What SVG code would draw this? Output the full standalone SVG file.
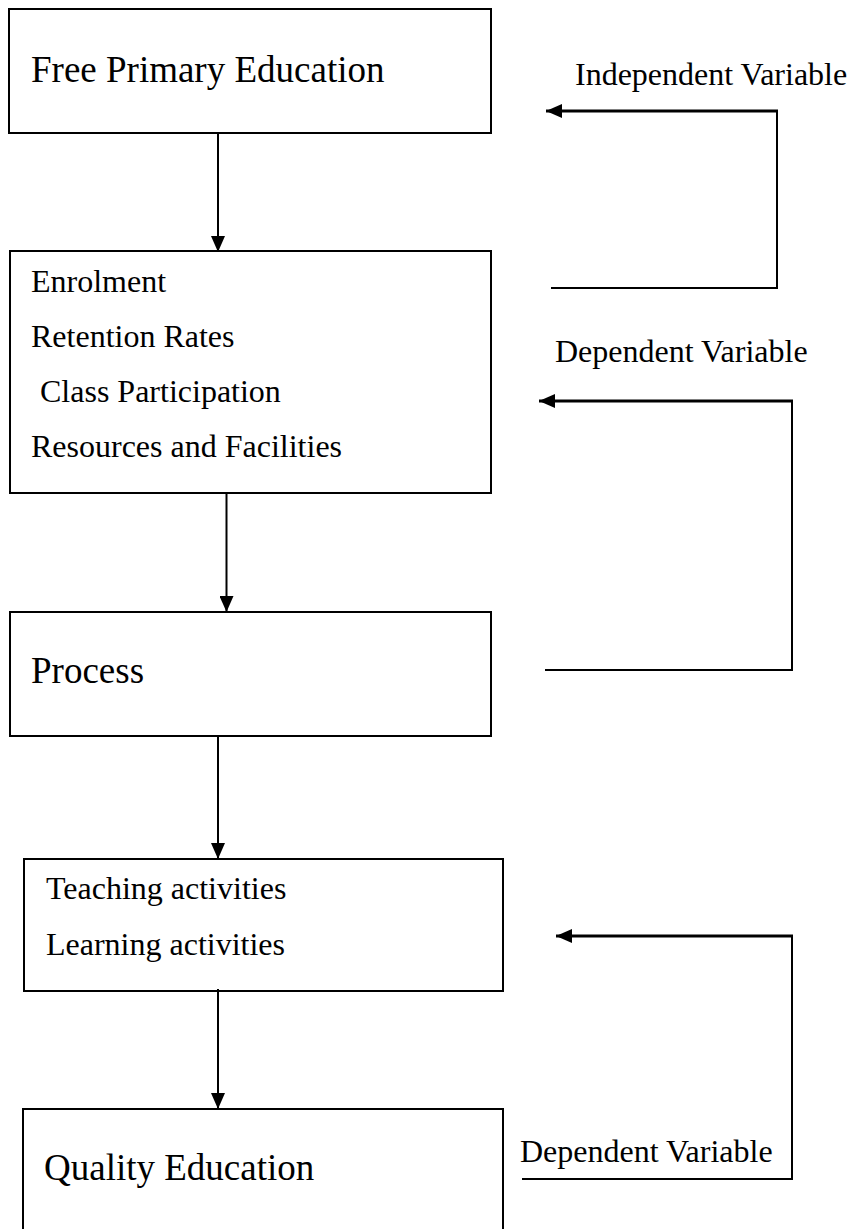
<svg xmlns="http://www.w3.org/2000/svg" width="856" height="1229" viewBox="0 0 856 1229">
<style>
.box{fill:#fff;stroke:#000;stroke-width:2}
.t{font-family:"Liberation Serif","Times New Roman",serif;fill:#000}
.lg{font-size:37px}
.sm{font-size:32px}
.c{fill:none;stroke:#000;stroke-width:2}
.fb{fill:none;stroke:#000;stroke-width:2}
.fbt{fill:none;stroke:#000;stroke-width:3}
</style>
<defs>
<marker id="ah" viewBox="0 0 16 14" refX="16" refY="7" markerWidth="16" markerHeight="14" markerUnits="userSpaceOnUse" orient="auto">
<path d="M0,0 L16,7 L0,14 Z" fill="#000"/>
</marker>
</defs>
<rect width="856" height="1229" fill="#fff"/>
<g id="node-free-primary">
<rect class="box" x="9" y="9" width="482" height="124"/>
<text class="t lg" x="31" y="82">Free Primary Education</text>
</g>
<g id="node-enrolment">
<rect class="box" x="10" y="251" width="481" height="242"/>
<text class="t sm" x="31" y="292">Enrolment</text>
<text class="t sm" x="31" y="347">Retention Rates</text>
<text class="t sm" x="40" y="402">Class Participation</text>
<text class="t sm" x="31" y="457">Resources and Facilities</text>
</g>
<g id="node-process">
<rect class="box" x="10" y="612" width="481" height="124"/>
<text class="t lg" x="31" y="683">Process</text>
</g>
<g id="node-activities">
<rect class="box" x="24" y="859" width="479" height="132"/>
<text class="t sm" x="46" y="899">Teaching activities</text>
<text class="t sm" x="46" y="955">Learning activities</text>
</g>
<g id="node-quality">
<path class="box" d="M23,1232 V1109 H503 V1232"/>
<text class="t lg" x="44" y="1180">Quality Education</text>
</g>
<g id="labels">
<text class="t sm" x="575" y="85">Independent Variable</text>
<text class="t sm" x="555" y="362">Dependent Variable</text>
<text class="t sm" x="520" y="1162">Dependent Variable</text>
</g>
<g id="connectors">
<line class="c" x1="218" y1="133" x2="218" y2="252" marker-end="url(#ah)"/>
<line class="c" x1="226.5" y1="493" x2="226.5" y2="612" marker-end="url(#ah)"/>
<line class="c" x1="218" y1="736" x2="218" y2="859" marker-end="url(#ah)"/>
<line class="c" x1="218" y1="989" x2="218" y2="1109" marker-end="url(#ah)"/>
<path class="fb" d="M551,288 H777 V111"/>
<line class="fbt" x1="778" y1="111" x2="546" y2="111" marker-end="url(#ah)"/>
<path class="fb" d="M545,670 H792 V401"/>
<line class="fbt" x1="793" y1="401" x2="539" y2="401" marker-end="url(#ah)"/>
<path class="fb" d="M522,1179 H792 V936"/>
<line class="fbt" x1="793" y1="936" x2="556" y2="936" marker-end="url(#ah)"/>
</g>
</svg>
